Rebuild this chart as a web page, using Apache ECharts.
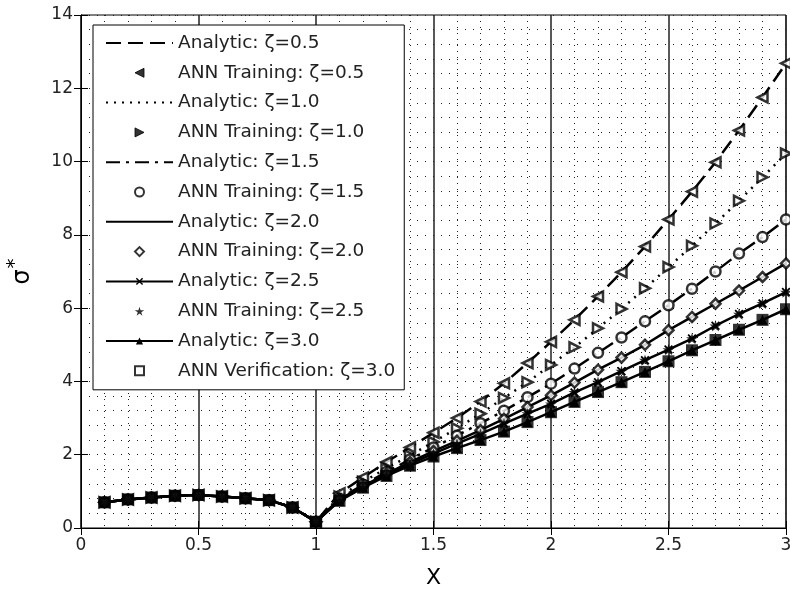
<!DOCTYPE html>
<html>
<head>
<meta charset="utf-8">
<script src="https://cdn.jsdelivr.net/npm/echarts@6/dist/echarts.min.js"></script>
<style>
html,body{margin:0;padding:0;background:#fff;}
#c{width:790px;height:592px;}
</style>
</head>
<body>
<div id="c"></div>
<script>
// ---- data ----
var xs = [0.1,0.2,0.3,0.4,0.5,0.6,0.7,0.8,0.9,1.0,1.1,1.2,1.3,1.4,1.5,1.6,1.7,1.8,1.9,2.0,2.1,2.2,2.3,2.4,2.5,2.6,2.7,2.8,2.9,3.0];
var z05 = [0.70,0.78,0.83,0.88,0.90,0.86,0.81,0.76,0.56,0.17,0.95,1.38,1.80,2.20,2.60,3.00,3.45,3.95,4.50,5.08,5.68,6.32,6.98,7.68,8.42,9.18,9.98,10.85,11.75,12.68];
var z10 = [0.70,0.78,0.83,0.88,0.90,0.86,0.81,0.76,0.56,0.17,0.86,1.26,1.63,1.98,2.35,2.72,3.12,3.55,3.98,4.45,4.93,5.45,5.98,6.54,7.12,7.70,8.31,8.93,9.57,10.22];
var z15 = [0.70,0.78,0.83,0.88,0.90,0.86,0.81,0.76,0.56,0.17,0.80,1.18,1.53,1.87,2.20,2.52,2.86,3.20,3.57,3.94,4.35,4.78,5.20,5.64,6.08,6.53,7.00,7.49,7.94,8.42];
var z20 = [0.70,0.78,0.83,0.88,0.90,0.86,0.81,0.76,0.56,0.17,0.78,1.14,1.48,1.80,2.10,2.38,2.67,2.98,3.30,3.62,3.97,4.32,4.65,5.00,5.40,5.76,6.12,6.48,6.85,7.22];
var z25 = [0.70,0.78,0.83,0.88,0.90,0.86,0.81,0.76,0.56,0.17,0.76,1.12,1.45,1.75,2.03,2.30,2.57,2.85,3.12,3.39,3.70,3.98,4.28,4.58,4.87,5.17,5.52,5.84,6.13,6.44];
var z30 = [0.70,0.78,0.83,0.88,0.90,0.86,0.81,0.76,0.56,0.17,0.74,1.10,1.42,1.70,1.95,2.18,2.40,2.63,2.89,3.16,3.44,3.71,3.98,4.26,4.55,4.85,5.13,5.41,5.68,5.97];
var names = ['Analytic: ζ=0.5','ANN Training: ζ=0.5','Analytic: ζ=1.0','ANN Training: ζ=1.0','Analytic: ζ=1.5','ANN Training: ζ=1.5','Analytic: ζ=2.0','ANN Training: ζ=2.0','Analytic: ζ=2.5','ANN Training: ζ=2.5','Analytic: ζ=3.0','ANN Verification: ζ=3.0'];
var xTicks = [0,0.5,1,1.5,2,2.5,3];
var yTicks = [0,2,4,6,8,10,12,14];

function pairs(ys){ return xs.map(function(x,i){ return [x, ys[i]]; }); }

var STAR = 'path://M50,0 L61,35 L98,35 L68,57 L79,91 L50,70 L21,91 L32,57 L2,35 L39,35 Z';
var CROSS = 'path://M0,14 L14,0 L50,36 L86,0 L100,14 L64,50 L100,86 L86,100 L50,64 L14,100 L0,86 L36,50 Z';
var TRI_L = 'path://M0,50 L100,0 L100,100 Z';
var TRI_R = 'path://M100,50 L0,0 L0,100 Z';
var TRI_U = 'path://M50,0 L100,100 L0,100 Z';
var DIAM = 'path://M50,0 L100,50 L50,100 L0,50 Z';
var SQR = 'path://M0,0 L100,0 L100,100 L0,100 Z';
var FONT = 'DejaVu Sans';

function lineS(name, ys, dash, sym, symSize, symStyle){
  return {
    name: name, type: 'line', data: pairs(ys),
    symbol: sym || 'none', symbolSize: symSize || 0, showSymbol: !!sym,
    symbolKeepAspect: true,
    lineStyle: {color:'#000', width: 2.5, type: dash},
    itemStyle: symStyle || {color:'#000'},
    z: 3, silent: true
  };
}
function scat(name, ys, sym, size, style){
  return {
    name: name, type: 'scatter', data: pairs(ys),
    symbol: sym, symbolSize: size, symbolKeepAspect: true,
    itemStyle: style, z: 4, silent: true
  };
}
var openStyle = {color:'#fff', borderColor:'#000', borderWidth:2.5};

var series = [
  lineS(names[0], z05, [15,7]),
  scat(names[1], z05, TRI_L, 10, openStyle),
  lineS(names[2], z10, [2,6]),
  scat(names[3], z10, TRI_R, 10, openStyle),
  lineS(names[4], z15, [14,6,3,6]),
  scat(names[5], z15, 'circle', 10, openStyle),
  lineS(names[6], z20, 'solid'),
  scat(names[7], z20, DIAM, 10, openStyle),
  lineS(names[8], z25, 'solid', CROSS, 9, {color:'#000'}),
  scat(names[9], z25, STAR, 12, {color:'#000'}),
  lineS(names[10], z30, 'solid', TRI_U, 10, {color:'#000'}),
  scat(names[11], z30, SQR, 12, {color:'#000'})
];

var hidden = {color:'rgba(0,0,0,0)', borderWidth:0};
var legendData = names.map(function(n, i){
  if (i === 0 || i === 2 || i === 4 || i === 6) return {name:n, itemStyle: hidden};
  if (i === 11) return {name:n, itemStyle:{color:'#fff', borderColor:'#000', borderWidth:2}};
  if (i === 1 || i === 3) return {name:n, itemStyle:{color:'#000', borderColor:'#000', borderWidth:1}};
  if (i === 5 || i === 7) return {name:n, itemStyle:{color:'#fff', borderColor:'#000', borderWidth:2}};
  return {name:n};
});

var axisCommon = {
  type:'value',
  axisLine:{show:true, lineStyle:{color:'#000', width:1}},
  axisTick:{show:true, inside:true, length:7, lineStyle:{color:'#000'}},
  axisLabel:{color:'#222', fontSize:17, fontFamily:FONT}
};

var option = {
  animation:false,
  backgroundColor:'#fff',
  grid:{left:81, right:4, top:15, bottom:64, show:true, borderColor:'#000', borderWidth:1,
        containLabel:false, outerBoundsMode:'none'},
  legend:{
    data: legendData, orient:'vertical', left:93, top:25,
    padding:[8,9,9,12], itemGap:9.8, itemWidth:67, itemHeight:9,
    symbolKeepAspect:true,
    selectedMode:false, borderColor:'#000', borderWidth:1, backgroundColor:'#fff',
    textStyle:{fontSize:18.5, fontFamily:FONT, color:'#222', lineHeight:20},
    z:10
  },
  xAxis:[
    Object.assign({}, axisCommon, {
      min:0, max:3, interval:0.5, position:'bottom',
      axisLabel:{color:'#222', fontSize:17, fontFamily:FONT, margin:9,
        formatter:function(v){ return xTicks.indexOf(v) >= 0 ? String(v) : ''; }},
      name:'X', nameLocation:'middle', nameGap:39,
      nameTextStyle:{fontSize:22, fontFamily:FONT, color:'#000'},
      splitLine:{show:true, lineStyle:{color:'#222', width:1.5, type:'solid'}},
      minorTick:{show:false, splitNumber:5},
      minorSplitLine:{show:true, lineStyle:{color:'#222', width:1, type:[1,5]}}
    }),
    Object.assign({}, axisCommon, {
      min:0, max:3, interval:0.5, position:'top',
      axisLabel:{show:false}, splitLine:{show:false}
    })
  ],
  yAxis:[
    Object.assign({}, axisCommon, {
      min:0, max:14, interval:2, position:'left',
      axisLabel:{color:'#222', fontSize:17, fontFamily:FONT, margin:8,
        formatter:function(v){ return yTicks.indexOf(v) >= 0 ? String(v) : ''; }},
      name:'{s|σ}{p|*}', nameLocation:'middle', nameGap:46,
      nameTextStyle:{rich:{
        s:{fontSize:24, fontFamily:FONT, color:'#000', lineHeight:30, verticalAlign:'bottom'},
        p:{fontSize:20, fontFamily:FONT, color:'#000', lineHeight:30, verticalAlign:'top', padding:[0,0,10,1]}
      }},
      splitLine:{show:true, lineStyle:{color:'#222', width:1, type:[1,7]}},
      minorTick:{show:false, splitNumber:5},
      minorSplitLine:{show:true, lineStyle:{color:'#222', width:1, type:[1,7]}}
    }),
    Object.assign({}, axisCommon, {
      min:0, max:14, interval:2, position:'right',
      axisLabel:{show:false}, splitLine:{show:false}
    })
  ],
  series: series
};

var chart = echarts.init(document.getElementById('c'), null, {renderer:'canvas'});
chart.setOption(option);
</script>
</body>
</html>
